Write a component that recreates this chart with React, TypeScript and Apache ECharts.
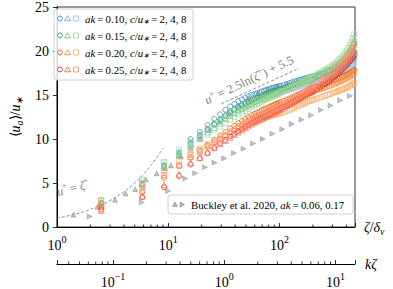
import React, { useEffect, useRef } from "react";
import * as echarts from "echarts";

const FONT = "Liberation Serif, Times New Roman, Tinos, Times, serif";

// wall-normal positions (zeta/delta_nu)
const zeta = [2.5, 5.85, 9.2, 12.55, 15.9, 19.25, 22.6, 25.95, 29.3, 32.65, 36, 39.35, 42.7, 46.05, 49.4,
  52.75, 56.1, 59.45, 62.8, 66.15, 69.5, 72.85, 76.2, 79.55, 82.9, 86.25, 89.6, 92.95, 96.3, 99.65, 103,
  109.7, 116.4, 123.1, 129.8, 136.5, 143.2, 149.9, 156.6, 163.3, 170, 176.7, 183.4, 190.1, 196.8, 203.5,
  216.9, 230.3, 243.7, 257.1, 270.5, 283.9, 297.3, 310.7, 324.1, 337.5, 350.9, 364.3, 377.7, 391.1, 404.5,
  417.9, 431.3, 444.7, 458.1, 471.5];

// ak = 0.10 (c/u* = 2, 4, 8)
const blueC2 = [2.7, 4.9, 7.0, 8.5, 10.0, 10.8, 11.6, 12.3, 12.8, 13.3, 13.7, 14.0, 14.3, 14.5, 14.7,
  14.85, 15.0, 15.1, 15.2, 15.3, 15.4, 15.5, 15.6, 15.65, 15.7, 15.8, 15.85, 15.9, 15.95, 16.0, 16.05,
  16.15, 16.25, 16.35, 16.45, 16.55, 16.6, 16.7, 16.75, 16.8, 16.9, 16.95, 17.0, 17.05, 17.1, 17.15,
  17.25, 17.35, 17.45, 17.55, 17.65, 17.75, 17.85, 17.95, 18.05, 18.15, 18.25, 18.4, 18.55, 18.7, 18.85,
  19.0, 19.2, 19.4, 19.65, 19.9];
const blueC4 = [2.6, 4.7, 6.8, 8.2, 9.5, 10.4, 11.1, 11.8, 12.3, 12.8, 13.2, 13.5, 13.8, 14.0, 14.2,
  14.4, 14.55, 14.7, 14.8, 14.9, 15.0, 15.1, 15.2, 15.3, 15.35, 15.45, 15.5, 15.55, 15.6, 15.65, 15.7,
  15.8, 15.9, 16.0, 16.1, 16.2, 16.3, 16.35, 16.45, 16.5, 16.6, 16.65, 16.7, 16.75, 16.8, 16.85,
  16.95, 17.05, 17.15, 17.25, 17.35, 17.45, 17.55, 17.65, 17.75, 17.85, 17.95, 18.05, 18.15, 18.3, 18.45,
  18.6, 18.75, 18.95, 19.15, 19.4];
const blueC8 = [3.0, 5.4, 7.4, 8.8, 9.8, 10.5, 11.1, 11.6, 12.0, 12.4, 12.7, 13.0, 13.3, 13.5, 13.7,
  13.85, 14.0, 14.15, 14.3, 14.4, 14.5, 14.6, 14.7, 14.8, 14.9, 15.0, 15.05, 15.1, 15.15, 15.2, 15.3,
  15.4, 15.5, 15.6, 15.7, 15.8, 15.9, 16.0, 16.05, 16.1, 16.2, 16.25, 16.3, 16.35, 16.4, 16.45,
  16.55, 16.65, 16.75, 16.85, 16.95, 17.05, 17.15, 17.25, 17.35, 17.45, 17.55, 17.65, 17.75, 17.85, 17.95,
  18.1, 18.25, 18.4, 18.55, 18.75];
// ak = 0.15
const greenC2 = [2.7, 4.8, 6.9, 8.3, 9.6, 10.4, 11.1, 11.7, 12.2, 12.6, 13.0, 13.3, 13.6, 13.8, 14.0,
  14.2, 14.35, 14.5, 14.65, 14.8, 14.9, 15.0, 15.1, 15.2, 15.3, 15.4, 15.45, 15.5, 15.55, 15.6, 15.7,
  15.8, 15.9, 16.0, 16.1, 16.2, 16.3, 16.4, 16.45, 16.55, 16.6, 16.7, 16.75, 16.85, 16.9, 17.0,
  17.1, 17.25, 17.4, 17.5, 17.65, 17.8, 17.9, 18.05, 18.2, 18.35, 18.5, 18.7, 18.9, 19.1, 19.3,
  19.55, 19.8, 20.1, 20.4, 20.8];
const greenC4 = [2.8, 5.0, 7.0, 8.2, 9.3, 10.1, 10.8, 11.3, 11.8, 12.3, 12.7, 13.0, 13.3, 13.5, 13.7,
  13.9, 14.1, 14.25, 14.4, 14.55, 14.7, 14.8, 14.9, 15.0, 15.1, 15.2, 15.25, 15.3, 15.4, 15.45, 15.5,
  15.65, 15.8, 15.9, 16.0, 16.15, 16.25, 16.35, 16.45, 16.55, 16.65, 16.75, 16.85, 16.95, 17.05, 17.15,
  17.3, 17.45, 17.6, 17.75, 17.9, 18.05, 18.2, 18.35, 18.5, 18.65, 18.85, 19.05, 19.25, 19.5, 19.75,
  20.0, 20.3, 20.6, 20.95, 21.4];
const greenC8 = [3.1, 5.2, 7.3, 8.4, 9.3, 10.0, 10.5, 11.0, 11.4, 11.8, 12.2, 12.5, 12.8, 13.0, 13.2,
  13.4, 13.6, 13.8, 13.95, 14.1, 14.25, 14.4, 14.5, 14.6, 14.7, 14.8, 14.9, 15.0, 15.1, 15.2, 15.3,
  15.45, 15.6, 15.75, 15.9, 16.0, 16.15, 16.3, 16.4, 16.5, 16.65, 16.75, 16.85, 16.95, 17.05, 17.15,
  17.35, 17.5, 17.7, 17.85, 18.0, 18.2, 18.35, 18.5, 18.7, 18.9, 19.1, 19.3, 19.55, 19.8, 20.05,
  20.35, 20.7, 21.05, 21.45, 21.9];
// ak = 0.20
const orangeC2 = [2.3, 3.9, 5.6, 6.9, 7.9, 8.7, 9.3, 9.9, 10.4, 10.8, 11.2, 11.5, 11.8, 12.05, 12.3,
  12.5, 12.7, 12.85, 13.0, 13.15, 13.3, 13.4, 13.5, 13.6, 13.7, 13.8, 13.9, 14.0, 14.05, 14.1, 14.2,
  14.35, 14.5, 14.6, 14.75, 14.85, 15.0, 15.1, 15.2, 15.3, 15.4, 15.5, 15.6, 15.65, 15.75, 15.85,
  15.95, 16.05, 16.15, 16.25, 16.35, 16.45, 16.55, 16.65, 16.75, 16.85, 16.95, 17.05, 17.15, 17.25, 17.35,
  17.45, 17.55, 17.65, 17.75, 17.85];
const orangeC4 = [2.4, 4.2, 5.9, 7.1, 8.0, 8.6, 9.2, 9.7, 10.1, 10.5, 10.9, 11.2, 11.5, 11.75, 12.0,
  12.2, 12.4, 12.55, 12.7, 12.85, 13.0, 13.1, 13.2, 13.3, 13.4, 13.5, 13.6, 13.7, 13.75, 13.8, 13.9,
  14.05, 14.2, 14.3, 14.45, 14.55, 14.7, 14.8, 14.9, 15.0, 15.1, 15.2, 15.3, 15.35, 15.45, 15.55,
  15.65, 15.75, 15.85, 15.95, 16.05, 16.15, 16.25, 16.35, 16.45, 16.55, 16.65, 16.75, 16.85, 16.95, 17.05,
  17.15, 17.25, 17.35, 17.45, 17.6];
const orangeC8 = [3.0, 5.0, 6.5, 7.5, 8.3, 8.9, 9.4, 9.8, 10.2, 10.5, 10.8, 11.0, 11.25, 11.45, 11.6,
  11.75, 11.9, 12.0, 12.1, 12.2, 12.3, 12.4, 12.5, 12.55, 12.6, 12.7, 12.75, 12.8, 12.85, 12.9, 12.95,
  13.05, 13.2, 13.3, 13.45, 13.55, 13.7, 13.8, 13.9, 14.0, 14.1, 14.2, 14.3, 14.35, 14.45, 14.5,
  14.6, 14.7, 14.8, 14.9, 15.0, 15.1, 15.2, 15.3, 15.35, 15.45, 15.55, 15.6, 15.7, 15.8, 15.85,
  15.95, 16.05, 16.15, 16.25, 16.4];
// ak = 0.25
const redC2 = [2.0, 3.4, 4.5, 5.8, 7.1, 7.8, 8.4, 9.0, 9.5, 9.9, 10.3, 10.6, 10.9, 11.15, 11.4,
  11.6, 11.8, 12.0, 12.15, 12.3, 12.45, 12.6, 12.7, 12.8, 12.9, 13.0, 13.1, 13.2, 13.3, 13.4, 13.5,
  13.65, 13.8, 13.95, 14.1, 14.25, 14.4, 14.55, 14.7, 14.8, 14.95, 15.05, 15.15, 15.25, 15.35, 15.45,
  15.65, 15.85, 16.05, 16.25, 16.45, 16.65, 16.85, 17.05, 17.25, 17.45, 17.65, 17.85, 18.05, 18.25, 18.45,
  18.65, 18.85, 19.05, 19.25, 19.5];
const redC4 = [1.9, 3.5, 4.8, 6.0, 7.3, 7.9, 8.5, 9.0, 9.45, 9.85, 10.2, 10.5, 10.8, 11.05, 11.3,
  11.5, 11.7, 11.9, 12.05, 12.2, 12.35, 12.5, 12.6, 12.75, 12.85, 12.95, 13.05, 13.15, 13.25, 13.35, 13.45,
  13.65, 13.85, 14.0, 14.2, 14.35, 14.5, 14.65, 14.8, 14.95, 15.1, 15.25, 15.35, 15.5, 15.6, 15.75,
  16.0, 16.2, 16.45, 16.65, 16.85, 17.05, 17.25, 17.45, 17.65, 17.85, 18.05, 18.25, 18.45, 18.65, 18.85,
  19.1, 19.35, 19.6, 19.85, 20.15];
const redC8 = [2.6, 4.4, 5.9, 7.0, 8.2, 8.7, 9.2, 9.6, 10.0, 10.3, 10.6, 10.9, 11.2, 11.4, 11.6,
  11.8, 12.0, 12.2, 12.35, 12.5, 12.65, 12.8, 12.9, 13.0, 13.1, 13.2, 13.3, 13.4, 13.5, 13.6, 13.7,
  13.9, 14.1, 14.3, 14.45, 14.6, 14.75, 14.9, 15.05, 15.2, 15.35, 15.5, 15.65, 15.8, 15.9, 16.05,
  16.3, 16.55, 16.8, 17.0, 17.2, 17.4, 17.6, 17.8, 18.0, 18.2, 18.4, 18.6, 18.8, 19.0, 19.25,
  19.5, 19.75, 20.05, 20.35, 20.7];

// Buckley et al. 2020
const buckleyA006Zeta = [1.41, 2.32, 3.32, 4.14, 5.06, 6.3, 7.9, 9.4, 10.6, 13.0, 15.9, 19.4, 23.7, 28.9,
  35.3, 43.1, 52.6, 64.2, 78.5, 95.7, 117, 143, 174, 213, 260, 317];
const buckleyA006U = [1.4, 2.3, 3.1, 3.8, 4.3, 5.4, 6.1, 6.7, 7.0, 8.0, 9.0, 10.0, 11.0, 12.0,
  12.9, 13.8, 14.6, 15.2, 15.6, 15.9, 16.2, 16.5, 16.8, 17.1, 17.4, 17.7];
const buckleyA017Zeta = [1.97, 5.8, 10.0, 14.3, 17.5, 21.4, 26.1, 31.9, 39, 47.6, 58, 71, 86.7, 106,
  129, 158, 193, 236, 288, 352, 430];
const buckleyA017U = [1.2, 2.8, 4.1, 5.5, 6.1, 6.8, 7.3, 7.8, 8.4, 8.9, 9.5, 10.0, 10.6, 11.1,
  11.7, 12.2, 12.7, 13.3, 13.8, 14.4, 14.9];

// reference laws
const viscZeta = [1, 1.5, 2, 2.5, 3, 4, 5, 6, 7, 8, 9];
const viscU = [1, 1.5, 2, 2.5, 3, 4, 5, 6, 7, 8, 9];
const logLawZeta = [30, 150];
const logLawU = [14.0, 18.03];

const akLabels = ["0.10", "0.15", "0.20", "0.25"];
const cLabel = "2, 4, 8";
const mainMinor = [2, 3, 4, 5, 6, 7, 8, 9, 20, 30, 40, 50, 60, 70, 80, 90, 200, 300, 400];
const kMinor = [0.04, 0.05, 0.06, 0.07, 0.08, 0.09, 0.2, 0.3, 0.4, 0.5, 0.6, 0.7, 0.8, 0.9,
  2, 3, 4, 5, 6, 7, 8, 9];

const X_MIN = 1, X_MAX = 478;
const K_MIN = 0.0313, K_MAX = 14.96;
const K_OFFSET = 37;

const palette = [
  ["#3182bd", "#6baed6", "#9ecae1"],
  ["#31a354", "#74c476", "#a1d99b"],
  ["#e6550d", "#fd8d3c", "#fdae6b"],
  ["#cb181d", "#fb6a4a", "#fc9272"],
];
const groups = [
  [blueC2, blueC4, blueC8],
  [greenC2, greenC4, greenC8],
  [orangeC2, orangeC4, orangeC8],
  [redC2, redC4, redC8],
];
const symbols = ["circle", "triangle", "rect"];

const pts = (xs: number[], ys: number[]) => xs.map((x, i) => [x, ys[i]]);

const supLabel = (v: number) => {
  const e = Math.log10(v);
  const r = Math.round(e);
  if (Math.abs(e - r) > 1e-6) return "";
  return `{b|10}{s|${r < 0 ? "\u2212" + -r : r}}`;
};
const supRich = {
  b: { fontSize: 14, fontFamily: FONT, color: "#000", lineHeight: 18, verticalAlign: "bottom" },
  s: { fontSize: 10, fontFamily: FONT, color: "#000", lineHeight: 10, verticalAlign: "top" },
};
const mathRich = (size: number, color: string) => ({
  i: { fontSize: size, fontFamily: FONT, fontStyle: "italic", color, lineHeight: size + 4, verticalAlign: "middle" },
  r: { fontSize: size, fontFamily: FONT, color, lineHeight: size + 4, verticalAlign: "middle" },
  sub: { fontSize: size * 0.7, fontFamily: FONT, fontStyle: "italic", color, lineHeight: size * 0.7, verticalAlign: "bottom" },
  sup: { fontSize: size * 0.7, fontFamily: FONT, color, lineHeight: size * 0.7, verticalAlign: "top" },
});
const gRich = (size: number, color: string) => ({
  i: { fontSize: size, fontFamily: FONT, fontStyle: "italic", fill: color, lineHeight: size + 4, verticalAlign: "middle" },
  r: { fontSize: size, fontFamily: FONT, fill: color, lineHeight: size + 4, verticalAlign: "middle" },
  sub: { fontSize: size * 0.7, fontFamily: FONT, fontStyle: "italic", fill: color, lineHeight: size * 0.7, verticalAlign: "bottom" },
  sup: { fontSize: size * 0.7, fontFamily: FONT, fill: color, lineHeight: size * 0.7, verticalAlign: "top" },
});

function buildOption() {
  const series: any[] = [];
  series.push({
    type: "scatter",
    data: pts(buckleyA006Zeta, buckleyA006U),
    symbol: "triangle",
    symbolSize: 5,
    itemStyle: { color: "#b4b4b4", borderColor: "#7a7a7a", borderWidth: 0.5 },
    silent: true,
    z: 3,
  });
  series.push({
    type: "scatter",
    data: pts(buckleyA017Zeta, buckleyA017U),
    symbol: "triangle",
    symbolRotate: -90,
    symbolSize: 5,
    itemStyle: { color: "#b4b4b4", borderColor: "#7a7a7a", borderWidth: 0.5 },
    silent: true,
    z: 3,
  });
  groups.forEach((g, gi) => {
    g.forEach((ys, si) => {
      series.push({
        type: "scatter",
        xAxisIndex: 0,
        yAxisIndex: 0,
        data: pts(zeta, ys),
        symbol: symbols[si],
        symbolSize: si === 1 ? 6 : 5,
        itemStyle: { color: "rgba(255,255,255,0)", borderColor: palette[gi][si], borderWidth: 0.9 },
        silent: true,
        z: 3,
      });
    });
  });
  const dash = { color: "#808080", width: 0.9, type: [3, 2] };
  series.push({ type: "line", data: pts(viscZeta, viscU), smooth: true, showSymbol: false, lineStyle: dash, silent: true, z: 2 });
  series.push({ type: "line", data: pts(logLawZeta, logLawU), showSymbol: false, lineStyle: dash, silent: true, z: 2 });
  // minor log ticks, main axis
  series.push({
    type: "custom",
    xAxisIndex: 0,
    yAxisIndex: 0,
    data: mainMinor.map((v) => [v, 0]),
    silent: true,
    z: 6,
    renderItem: (_p: any, api: any) => {
      const c = api.coord([api.value(0), 0]);
      return { type: "line", shape: { x1: c[0], y1: c[1], x2: c[0], y2: c[1] - 2.5 }, style: { stroke: "#000", lineWidth: 0.8 } };
    },
  });
  series.push({
    type: "custom",
    xAxisIndex: 1,
    yAxisIndex: 0,
    data: kMinor.map((v) => [v, 0]),
    silent: true,
    z: 6,
    renderItem: (_p: any, api: any) => {
      const c = api.coord([api.value(0), 0]);
      return { type: "line", shape: { x1: c[0], y1: c[1] + K_OFFSET, x2: c[0], y2: c[1] + K_OFFSET - 2.5 }, style: { stroke: "#000", lineWidth: 0.8 } };
    },
  });

  const graphic: any[] = [];
  // upper-left legend
  graphic.push({
    type: "rect", z: 100, shape: { x: 54, y: 9, width: 139, height: 71, r: 3 },
    style: { fill: "rgba(255,255,255,0.85)", stroke: "#d0d0d0", lineWidth: 1 },
  });
  akLabels.forEach((ak, i) => {
    const cy = 18.5 + 17 * i;
    const cols = palette[i];
    graphic.push({ type: "circle", z: 101, shape: { cx: 60, cy, r: 2.4 }, style: { fill: "none", stroke: cols[0], lineWidth: 0.9 } });
    graphic.push({ type: "polygon", z: 101, shape: { points: [[67.5, cy - 2.8], [70.5, cy + 2.3], [64.5, cy + 2.3]] }, style: { fill: "none", stroke: cols[1], lineWidth: 0.9 } });
    graphic.push({ type: "rect", z: 101, shape: { x: 73.5, y: cy - 2.5, width: 5, height: 5 }, style: { fill: "none", stroke: cols[2], lineWidth: 0.9 } });
    graphic.push({
      type: "text", z: 101, x: 85, y: cy,
      style: {
        text: `{i|ak}{r|\u2009=\u2009${ak}, }{i|c}{r|/}{i|u}{sub|\u2217}{r|\u2009=\u2009${cLabel}}`,
        rich: gRich(10.8, "#000"), align: "left", verticalAlign: "middle",
      },
    });
  });
  // Buckley legend
  graphic.push({
    type: "rect", z: 100, shape: { x: 168, y: 195, width: 185, height: 19, r: 3 },
    style: { fill: "rgba(255,255,255,0.85)", stroke: "#d0d0d0", lineWidth: 1 },
  });
  graphic.push({ type: "polygon", z: 101, shape: { points: [[175, 202], [177.5, 206.5], [172.5, 206.5]] }, style: { fill: "#b4b4b4", stroke: "#7a7a7a", lineWidth: 0.5 } });
  graphic.push({ type: "polygon", z: 101, shape: { points: [[184.5, 204.5], [180, 202], [180, 207]] }, style: { fill: "#b4b4b4", stroke: "#7a7a7a", lineWidth: 0.5 } });
  graphic.push({
    type: "text", z: 101, x: 191, y: 204.5,
    style: {
      text: `{r|Buckley et al. 2020, }{i|ak}{r|\u2009=\u20090.06, 0.17}`,
      rich: gRich(10.8, "#000"), align: "left", verticalAlign: "middle",
    },
  });
  // annotations
  graphic.push({
    type: "text", z: 50, x: 249, y: 80, rotation: (25.5 * Math.PI) / 180,
    style: {
      text: `{i|u}{sup|+}{r| = 2.5ln(}{i|\u03b6}{sup|+}{r|) + 5.5}`,
      rich: gRich(12.5, "#808080"), align: "center", verticalAlign: "middle",
    },
  });
  graphic.push({
    type: "text", z: 50, x: 73, y: 188, rotation: (14 * Math.PI) / 180,
    style: {
      text: `{i|u}{sup|+}{r| = }{i|\u03b6}{sup|+}`,
      rich: gRich(12, "#808080"), align: "center", verticalAlign: "middle",
    },
  });

  return {
    animation: false,
    textStyle: { fontFamily: FONT },
    grid: { left: 45, right: 38, top: 5, bottom: 59, show: true, borderColor: "#333", borderWidth: 1, backgroundColor: "transparent" },
    xAxis: [
      {
        type: "log", logBase: 10, min: X_MIN, max: X_MAX, position: "bottom",
        name: "{i|\u03b6}{r|/}{i|\u03b4}{sub|\u03bd}", nameLocation: "end", nameGap: 9,
        nameTextStyle: { rich: mathRich(14, "#000") },
        axisLine: { show: true, lineStyle: { color: "#000", width: 1 } },
        axisTick: { show: true, inside: true, length: 4, lineStyle: { color: "#000", width: 0.8 } },
        axisLabel: { formatter: supLabel, rich: supRich, margin: 7, showMinLabel: true, showMaxLabel: true },
        splitLine: { show: false },
        minorTick: { show: false },
      },
      {
        type: "log", logBase: 10, min: K_MIN, max: K_MAX, position: "bottom", offset: K_OFFSET,
        name: "{i|k\u03b6}", nameLocation: "end", nameGap: 10,
        nameTextStyle: { rich: mathRich(14, "#000") },
        axisLine: { show: true, lineStyle: { color: "#000", width: 1 } },
        axisTick: { show: true, inside: true, length: 4, lineStyle: { color: "#000", width: 0.8 } },
        axisLabel: { formatter: supLabel, rich: supRich, margin: 7 },
        splitLine: { show: false },
      },
    ],
    yAxis: {
      type: "value", min: 0, max: 25, interval: 5,
      name: "{r|\u27e8}{i|u}{sub|a}{r|\u27e9/}{i|u}{sub|\u2217}", nameLocation: "middle", nameGap: 24, nameRotate: 90,
      nameTextStyle: { rich: mathRich(14, "#000") },
      axisLine: { show: true, lineStyle: { color: "#000", width: 1 } },
      axisTick: { show: true, inside: false, length: 4, lineStyle: { color: "#000", width: 0.8 } },
      axisLabel: { fontSize: 14, fontFamily: FONT, color: "#000", margin: 8 },
      splitLine: { show: false },
    },
    series,
    graphic,
  };
}

export default function App() {
  const ref = useRef<HTMLDivElement>(null);
  useEffect(() => {
    if (!ref.current) return;
    const chart = echarts.init(ref.current, undefined, { renderer: "svg" });
    chart.setOption(buildOption() as any);
    return () => chart.dispose();
  }, []);
  return <div ref={ref} style={{ width: 393, height: 289, position: "absolute", left: 0, top: 0, background: "#fff" }} />;
}
